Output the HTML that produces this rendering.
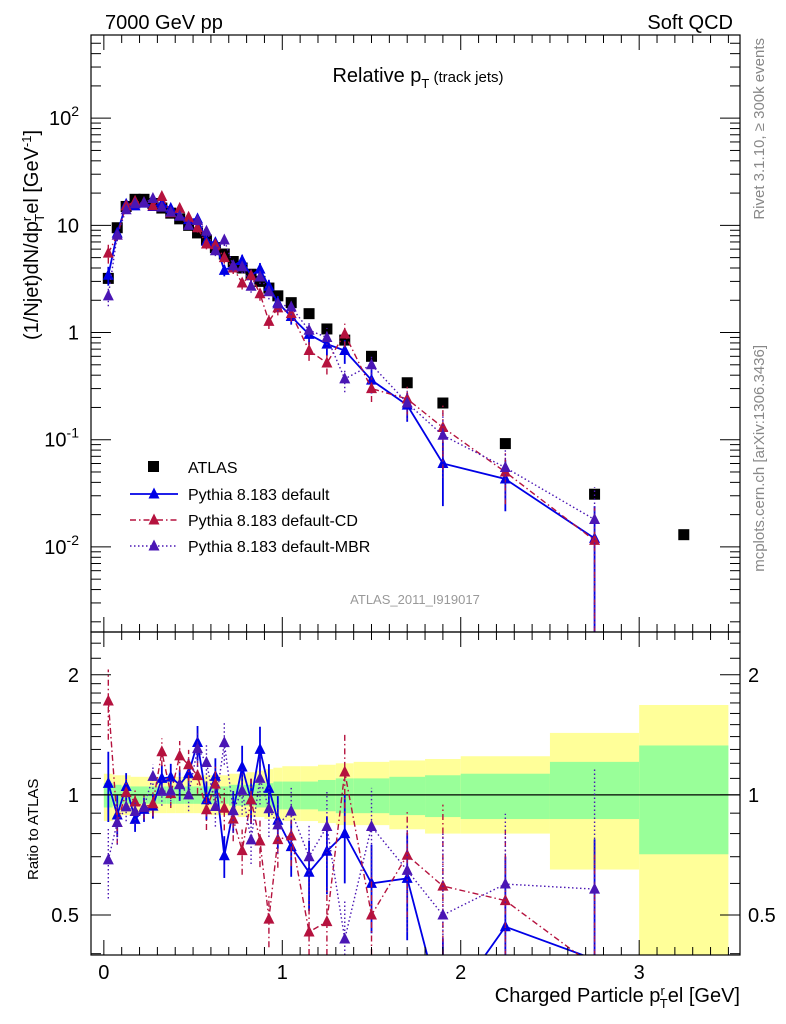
<!DOCTYPE html>
<html><head><meta charset="utf-8">
<style>
html,body{margin:0;padding:0;background:#fff;width:786px;height:1024px;overflow:hidden;}
svg{display:block;font-family:"Liberation Sans",Arial,sans-serif;}
</style></head>
<body>
<svg id="chart" width="786" height="1024" viewBox="0 0 786 1024" xmlns="http://www.w3.org/2000/svg">
<g id="bands"></g>
<g id="marks"></g>
<g id="axes"></g>
<text x="105" y="29" font-size="20">7000 GeV pp</text>
<text x="733" y="29" font-size="20" text-anchor="end">Soft QCD</text>
<text x="418" y="82" font-size="20" text-anchor="middle">Relative p<tspan font-size="13" dy="6">T</tspan><tspan font-size="15" dy="-6"> (track jets)</tspan></text>
<text x="415" y="604" font-size="13" fill="#999" text-anchor="middle">ATLAS_2011_I919017</text>
<text transform="translate(764,38) rotate(-90)" font-size="15" fill="#888" text-anchor="end">Rivet 3.1.10, ≥ 300k events</text>
<text transform="translate(764,345) rotate(-90)" font-size="15" fill="#888" text-anchor="end">mcplots.cern.ch [arXiv:1306.3436]</text>
<text transform="translate(38,340) rotate(-90)" font-size="20">(1/Njet)dN/dp<tspan font-size="13" dy="-7">r</tspan><tspan font-size="13" dy="13" dx="-5">T</tspan><tspan dy="-6">el [GeV</tspan><tspan font-size="13" dy="-7">-1</tspan><tspan dy="7">]</tspan></text>
<text transform="translate(38,880) rotate(-90)" font-size="15">Ratio to ATLAS</text>
<text x="740" y="1002" font-size="20" text-anchor="end">Charged Particle p<tspan font-size="13" dy="-7">r</tspan><tspan font-size="13" dy="13" dx="-5">T</tspan><tspan dy="-6">el [GeV]</tspan></text>
<g id="legend"></g>
</svg>
<script>
// ---- data ----
const xCenters = [0.025,0.075,0.125,0.175,0.225,0.275,0.325,0.375,0.425,0.475,0.525,0.575,0.625,0.675,0.725,0.775,0.825,0.875,0.925,0.975,1.05,1.15,1.25,1.35,1.5,1.7,1.9,2.25,2.75,3.25];
const binEdges = [0,0.05,0.1,0.15,0.2,0.25,0.3,0.35,0.4,0.45,0.5,0.55,0.6,0.65,0.7,0.75,0.8,0.85,0.9,0.95,1.0,1.1,1.2,1.3,1.4,1.6,1.8,2.0,2.5,3.0,3.5];
const atlas = [3.2,9.5,15,17.5,17.5,16,14.5,13,11.5,10,8.5,7.3,6.2,5.4,4.6,4.0,3.5,3.0,2.6,2.2,1.9,1.5,1.08,0.85,0.6,0.34,0.22,0.092,0.031,0.013];
const pyDefault = [3.42,8.46,15.75,15.2,16.1,15.0,15.95,14.4,12.2,11.3,11.5,7.1,6.9,3.8,4.2,4.7,3.4,3.9,2.7,1.9,1.41,0.96,0.78,0.68,0.36,0.21,0.06,0.043,0.012];
const pyCD = [5.5,8.1,15.2,16.8,16.3,15.2,18.6,13.1,14.4,11.9,9.5,6.7,6.6,5.0,4.0,2.9,3.4,2.3,1.27,1.7,1.5,0.68,0.52,0.97,0.30,0.24,0.13,0.05,0.0115];
const pyMBR = [2.2,8.1,14.0,15.9,16.3,17.8,14.8,13.3,12.2,10.0,11.1,8.8,5.8,7.3,4.2,4.1,2.7,3.3,2.4,1.85,1.73,1.05,0.90,0.37,0.50,0.22,0.11,0.055,0.018];
const mcRelErr = [0.2,0.12,0.08,0.07,0.07,0.07,0.08,0.08,0.09,0.09,0.1,0.11,0.11,0.12,0.12,0.13,0.13,0.14,0.15,0.15,0.16,0.2,0.22,0.25,0.25,0.3,0.6,0.5,1.0];
const yellowUp = [1.13,1.12,1.12,1.11,1.11,1.11,1.11,1.11,1.11,1.12,1.12,1.12,1.12,1.12,1.13,1.13,1.14,1.15,1.16,1.17,1.18,1.18,1.19,1.20,1.21,1.22,1.23,1.25,1.43,1.68];
const yellowDn = [0.86,0.88,0.89,0.9,0.9,0.9,0.9,0.9,0.9,0.9,0.9,0.9,0.89,0.89,0.89,0.88,0.88,0.88,0.87,0.87,0.86,0.86,0.85,0.84,0.84,0.82,0.80,0.80,0.65,0.3];
const greenUp = [1.07,1.06,1.05,1.05,1.05,1.05,1.05,1.05,1.05,1.05,1.05,1.05,1.05,1.05,1.06,1.06,1.06,1.07,1.07,1.08,1.08,1.08,1.09,1.10,1.10,1.11,1.12,1.13,1.21,1.33];
const greenDn = [0.93,0.94,0.95,0.95,0.95,0.95,0.95,0.95,0.95,0.95,0.95,0.95,0.95,0.95,0.94,0.94,0.94,0.93,0.93,0.92,0.92,0.92,0.91,0.90,0.90,0.89,0.88,0.87,0.87,0.71];
const xTicks = [0,1,2,3];
const yTicks = [-2,-1,0,1,2];
const yTickLabels = ["10<sup>-2</sup>","10<sup>-1</sup>","1","10","10<sup>2</sup>"];
const rTicks = [0.5,1,2];
const rTickLabels = ["0.5","1","2"];

(function(){
const L=91,R=740,T1=35,B1=632,T2=632,B2=955;
const X0=-0.072,X1=3.565;
const LY0=-2.794,LY1=2.776;
const RY0=Math.log2(0.397),RY1=Math.log2(2.56);
const cl=(v,a,b)=>Math.max(a,Math.min(b,v));
const sx=v=>L+(v-X0)/(X1-X0)*(R-L);
const sy=v=>B1-(Math.log10(v)-LY0)/(LY1-LY0)*(B1-T1);
const sr=v=>B2-(Math.log2(v)-RY0)/(RY1-RY0)*(B2-T2);
const NS="http://www.w3.org/2000/svg";
function mk(tag,attrs,parent){const e=document.createElementNS(NS,tag);for(const k in attrs)e.setAttribute(k,attrs[k]);parent.appendChild(e);return e;}
const svg=document.getElementById('chart');
const defs=mk('defs',{},svg);
const c1=mk('clipPath',{id:'c1'},defs);mk('rect',{x:L,y:T1,width:R-L,height:B1-T1},c1);
const c2=mk('clipPath',{id:'c2'},defs);mk('rect',{x:L,y:T2,width:R-L,height:B2-T2},c2);

const bands=document.getElementById('bands');
bands.setAttribute('clip-path','url(#c2)');
for(let i=0;i<atlas.length;i++){
  const xa=sx(binEdges[i]),xb=sx(binEdges[i+1]);
  const yt=cl(sr(yellowUp[i]),T2,B2),yb=cl(sr(yellowDn[i]),T2,B2);
  const y=mk('rect',{x:xa,y:yt,width:xb-xa,height:yb-yt,fill:'#ffff99'},bands);
  
  
  const gt=cl(sr(greenUp[i]),T2,B2),gb=cl(sr(greenDn[i]),T2,B2);
  const g=mk('rect',{x:xa,y:gt,width:xb-xa,height:gb-gt,fill:'#99ff99'},bands);
  
  
}
const unity=mk('line',{x1:L,x2:R,y1:sr(1),y2:sr(1),stroke:'#000','stroke-width':1.3},bands);



const marks=document.getElementById('marks');
const gTop=mk('g',{'clip-path':'url(#c1)'},marks);
const gBot=mk('g',{'clip-path':'url(#c2)'},marks);

atlas.forEach((v,i)=>{
  const s=mk('rect',{x:sx(xCenters[i])-5.5,y:sy(v)-5.5,width:11,height:11,fill:'#000'},gTop);
  
  
});

function tri(g,x,y,col,name){
  const p=mk('polygon',{points:`${x},${y-6.5} ${x-5.5},${y+4.5} ${x+5.5},${y+4.5}`,fill:col},g);
  
  
}
const series=[
 {d:pyDefault,col:'#0000e6',dash:'',w:1.8,name:'default'},
 {d:pyCD,col:'#b5123e',dash:'6,3,1.5,3',w:1.4,name:'default-cd'},
 {d:pyMBR,col:'#4a16b4',dash:'1.5,2.5',w:1.4,name:'default-mbr'}
];
series.forEach(s=>{
  const pts=s.d.map((v,i)=>[sx(xCenters[i]),sy(v)]);
  const l=mk('polyline',{points:pts.map(p=>p.join(',')).join(' '),fill:'none',stroke:s.col,'stroke-width':s.w,'stroke-dasharray':s.dash},gTop);
  
  
  const rp=s.d.map((v,i)=>[sx(xCenters[i]),cl(sr(v/atlas[i]),T2-60,B2+60)]);
  const rl=mk('polyline',{points:rp.map(p=>p.join(',')).join(' '),fill:'none',stroke:s.col,'stroke-width':s.w,'stroke-dasharray':s.dash},gBot);
  
  
  s.d.forEach((v,i)=>{
    const x=sx(xCenters[i]),e=mcRelErr[i];
    const lo=Math.max(v*(1-e),1e-9),hi=v*(1+e);
    const eb=mk('line',{x1:x,x2:x,y1:cl(sy(lo),T1,B1),y2:cl(sy(hi),T1,B1),stroke:s.col,'stroke-width':s.w,'stroke-dasharray':s.dash},gTop);
    
    
    const r=v/atlas[i];
    const eb2=mk('line',{x1:x,x2:x,y1:cl(sr(Math.max(r*(1-e),1e-9)),T2,B2),y2:cl(sr(r*(1+e)),T2,B2),stroke:s.col,'stroke-width':s.w,'stroke-dasharray':s.dash},gBot);
    
    
    tri(gTop,x,sy(v),s.col,'marker-'+s.name);
    if(sr(r)<B2+10) tri(gBot,x,sr(r),s.col,'ratio-marker-'+s.name);
  });
});

const ax=document.getElementById('axes');
function ln(x1,y1,x2,y2,w){mk('line',{x1,y1,x2,y2,stroke:'#000','stroke-width':w||1},ax);}
const f1=mk('rect',{x:L,y:T1,width:R-L,height:B1-T1,fill:'none',stroke:'#000','stroke-width':1.2},ax);


const f2=mk('rect',{x:L,y:T2,width:R-L,height:B2-T2,fill:'none',stroke:'#000','stroke-width':1.2},ax);


for(let k=0;k<=35;k++){
  const v=k/10;const x=sx(v);const major=k%10===0;const len=major?15:8;
  [[T1,1],[B1,-1],[T2,1],[B2,-1]].forEach(([y,d])=>ln(x,y,x,y+d*len));
}
xTicks.forEach(v=>{
  const t=mk('text',{x:sx(v),y:979,'font-size':20,'text-anchor':'middle'},ax);t.textContent=v;
  
  
});
for(let d=-3;d<=2;d++){for(let m=1;m<=9;m++){const v=m*Math.pow(10,d);const lv=Math.log10(v);if(lv<LY0||lv>LY1)continue;
  const y=sy(v);const len=m==1?20:10;ln(L,y,L+len,y);ln(R,y,R-len,y);}}
yTicks.forEach((v,i)=>{
  const y=sy(Math.pow(10,v));
  const t=mk('text',{x:79,y:y+7,'font-size':20,'text-anchor':'end'},ax);
  
  
  const lab=yTickLabels[i];
  if(lab.indexOf('<sup>')>=0){const parts=lab.replace('</sup>','').split('<sup>');
    const a=mk('tspan',{},t);a.textContent=parts[0];const sp=mk('tspan',{'font-size':14,dy:-9},t);sp.textContent=parts[1];}
  else t.textContent=lab;
});
const rmin=[0.4,0.5,0.6,0.7,0.8,0.9,1,1.1,1.2,1.3,1.4,1.5,1.6,1.7,1.8,1.9,2,2.2,2.4];
rmin.forEach(v=>{const y=sr(v);const major=rTicks.indexOf(v)>=0;const len=major?20:10;ln(L,y,L+len,y);ln(R,y,R-len,y);});
rTicks.forEach((v,i)=>{
  const y=sr(v)+7;
  const a=mk('text',{x:79,y,'font-size':20,'text-anchor':'end'},ax);a.textContent=rTickLabels[i];
  
  
  const b=mk('text',{x:748,y,'font-size':20},ax);b.textContent=rTickLabels[i];
  
  
});

const lg=document.getElementById('legend');
const e0=mk('rect',{x:148,y:461,width:11,height:11,fill:'#000'},lg);


const t0=mk('text',{x:188,y:473,'font-size':16},lg);t0.textContent='ATLAS';


const labs=['Pythia 8.183 default','Pythia 8.183 default-CD','Pythia 8.183 default-MBR'];
series.forEach((s,i)=>{
  const y=494+i*26;
  const l=mk('line',{x1:130,x2:178,y1:y,y2:y,stroke:s.col,'stroke-width':s.w,'stroke-dasharray':s.dash},lg);
  
  
  tri(lg,154,y,s.col,'legend-marker-'+s.name);
  const t=mk('text',{x:188,y:y+6,'font-size':16},lg);t.textContent=labs[i];
  
  
});
})();
</script>
</body></html>
